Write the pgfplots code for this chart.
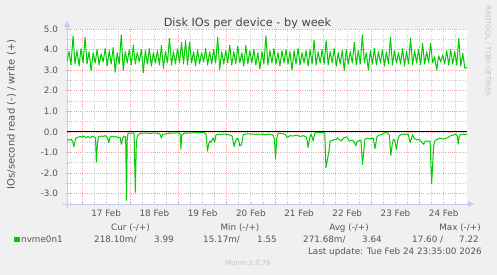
\documentclass[border=0pt]{standalone}
\usepackage{pgfplots}
\pgfplotsset{compat=1.18}
\usepackage{fontspec}
\setmainfont{DejaVu Sans}
\usetikzlibrary{arrows.meta}

\definecolor{bgcol}{HTML}{F0F0F0}
\definecolor{txt}{HTML}{555555}
\definecolor{ttl}{HTML}{444444}
\definecolor{faint}{HTML}{C4C4C4}
\definecolor{gridgray}{HTML}{CFCFCF}
\definecolor{gridred}{HTML}{F0A4A4}
\definecolor{axiscol}{HTML}{C8C8F4}
\definecolor{iogreen}{HTML}{00CC00}

\newcommand{\sz}{\fontsize{8.8bp}{10bp}\selectfont}

% write IOs/s (plotted upwards), hours since 17 Feb 00:00
\pgfplotstableread{
h v
-7.5 3.45
-6.5 3.90
-5.5 3.25
-4.5 4.66
-3.5 3.30
-2.5 3.95
-1.5 3.20
-0.5 4.05
0.5 3.35
1.5 4.60
2.5 3.30
3.5 3.90
4.5 2.98
5.5 3.85
6.5 3.35
7.5 4.00
8.5 3.25
9.5 3.80
10.5 3.40
11.5 4.05
12.5 3.20
13.5 3.95
14.5 3.30
15.5 4.10
16.5 2.90
17.5 3.85
18.5 3.30
19.5 4.71
20.5 3.00
21.5 3.90
22.5 3.35
23.5 4.00
24.5 3.25
25.5 4.22
26.5 3.30
27.5 3.85
28.5 3.40
29.5 4.00
30.5 2.88
31.5 3.95
32.5 3.30
33.5 4.05
34.5 3.20
35.5 3.85
36.5 3.35
37.5 3.95
38.5 3.25
39.5 4.20
40.5 3.09
41.5 3.90
42.5 3.35
43.5 4.55
44.5 3.25
45.5 3.90
46.5 3.30
47.5 4.05
48.5 3.35
49.5 4.35
50.5 3.30
51.5 4.43
52.5 3.25
53.5 4.37
54.5 3.35
55.5 3.90
56.5 3.20
57.5 4.00
58.5 3.30
59.5 3.85
60.5 3.40
61.5 4.05
62.5 3.25
63.5 3.90
64.5 3.30
65.5 4.00
66.5 3.35
67.5 4.60
68.5 3.03
69.5 3.90
70.5 3.30
71.5 3.95
72.5 3.35
73.5 4.22
74.5 3.25
75.5 3.90
76.5 3.30
77.5 4.16
78.5 3.35
79.5 3.85
80.5 3.20
81.5 4.20
82.5 3.30
83.5 3.95
84.5 3.35
85.5 4.00
86.5 3.25
87.5 3.85
88.5 3.05
89.5 3.90
90.5 3.30
91.5 4.67
92.5 3.25
93.5 3.95
94.5 3.35
95.5 4.05
96.5 3.30
97.5 3.85
98.5 3.20
99.5 3.95
100.5 3.35
101.5 4.00
102.5 3.30
103.5 3.90
104.5 3.00
105.5 3.95
106.5 3.30
107.5 4.05
108.5 3.25
109.5 3.85
110.5 3.35
111.5 3.95
112.5 3.20
113.5 4.00
114.5 3.30
115.5 4.47
116.5 3.25
117.5 3.90
118.5 3.35
119.5 4.00
120.5 3.30
121.5 4.44
122.5 3.25
123.5 3.90
124.5 3.35
125.5 4.05
126.5 3.20
127.5 3.85
128.5 3.30
129.5 3.95
130.5 3.00
131.5 4.00
132.5 3.30
133.5 3.90
134.5 3.35
135.5 4.35
136.5 3.25
137.5 3.95
138.5 3.30
139.5 4.71
140.5 3.35
141.5 3.85
142.5 3.00
143.5 3.95
144.5 3.30
145.5 4.05
146.5 3.25
147.5 3.90
148.5 3.35
149.5 4.00
150.5 3.20
151.5 3.90
152.5 3.30
153.5 4.60
154.5 3.25
155.5 3.95
156.5 3.35
157.5 3.85
158.5 3.30
159.5 4.05
160.5 3.20
161.5 3.90
162.5 3.30
163.5 4.55
164.5 3.25
165.5 3.95
166.5 3.35
167.5 4.00
168.5 3.25
169.5 4.30
170.5 3.30
171.5 3.90
172.5 3.35
173.5 4.30
174.5 3.35
175.5 3.65
176.5 3.00
177.5 3.70
178.5 3.40
179.5 3.75
180.5 3.30
181.5 3.95
182.5 3.25
183.5 4.00
184.5 3.30
185.5 3.90
186.5 3.25
187.5 4.55
188.5 3.20
189.5 3.82
190.5 3.10
191.6 3.12
}\writeio

% read IOs/s (plotted downwards), hours since 17 Feb 00:00
\pgfplotstableread{
h v
-7.5 -0.36
-6.5 -0.40
-5.5 -0.35
-4.7 -0.45
-4.1 -0.72
-3.5 -0.45
-3.0 -0.29
-2.0 -0.25
-1.0 -0.22
0.0 -0.25
1.0 -0.20
2.0 -0.28
3.0 -0.22
4.0 -0.30
5.0 -0.20
6.0 -0.25
6.7 -0.30
7.1 -1.46
7.7 -0.50
8.3 -0.23
9.5 -0.20
10.5 -0.22
11.5 -0.18
12.5 -0.25
13.3 -0.52
13.9 -0.25
14.9 -0.20
15.9 -0.25
16.9 -0.22
17.9 -0.28
18.9 -0.25
19.6 -0.60
20.2 -0.30
20.9 -0.20
21.7 -0.25
22.1 -3.32
22.5 -0.30
22.9 -0.05
23.9 -0.07
24.9 -0.05
25.9 -0.08
26.5 -2.93
27.0 -0.60
27.4 -0.25
28.1 -0.12
28.9 -0.08
31.4 -0.05
33.9 -0.07
36.4 -0.05
37.8 -0.08
38.8 -0.10
39.5 -0.30
40.1 -0.12
41.3 -0.10
43.8 -0.06
46.3 -0.05
48.3 -0.05
48.8 -0.10
49.2 -0.84
49.6 -0.15
50.8 -0.06
53.8 -0.05
56.3 -0.04
58.8 -0.03
60.8 -0.03
61.8 -0.15
62.4 -0.93
63.0 -0.60
63.6 -0.44
64.2 -0.50
65.2 -0.28
66.0 -0.50
66.7 -0.13
68.7 -0.12
71.2 -0.10
73.7 -0.15
74.7 -0.20
75.7 -0.71
76.4 -0.44
77.3 -0.30
77.9 -0.40
78.5 -0.68
79.4 -0.62
80.2 -0.13
81.7 -0.10
83.7 -0.10
86.2 -0.12
88.6 -0.10
91.1 -0.13
93.6 -0.10
95.1 -0.15
95.8 -0.40
96.3 -1.30
96.9 -0.30
97.6 -0.05
99.6 -0.08
101.1 -0.12
102.1 -0.28
103.6 -0.18
105.1 -0.20
106.6 -0.15
108.6 -0.22
110.1 -0.18
111.6 -0.25
112.1 -0.45
112.5 -0.76
113.3 -0.30
113.9 -0.10
114.5 -0.25
115.0 -0.44
115.9 -0.05
117.5 -0.03
119.5 -0.03
120.8 -0.05
121.4 -1.74
122.0 -1.40
122.8 -1.00
123.5 -0.44
125.0 -0.40
125.5 -0.36
126.8 -0.37
127.1 -0.28
128.8 -0.44
130.5 -0.28
131.8 -0.23
133.0 -0.44
134.5 -0.40
135.5 -0.49
136.3 -0.68
136.9 -0.45
137.9 -0.44
138.8 -0.39
139.6 -1.58
140.8 -0.36
141.9 -0.30
143.4 -0.33
144.9 -0.30
145.8 -0.81
146.8 -0.23
147.9 -0.15
149.4 -0.12
150.7 -0.03
151.9 -0.05
152.9 -0.15
153.7 -1.14
154.4 -0.60
155.0 -0.36
155.6 -0.40
156.5 -0.85
157.1 -0.40
157.9 -0.18
159.4 -0.10
160.9 -0.12
162.3 -0.10
163.3 -0.52
164.5 -0.13
165.3 -0.30
166.8 -0.40
167.8 -0.35
169.0 -0.49
170.0 -0.60
170.8 -0.45
172.0 -0.44
173.2 -0.45
174.0 -2.50
175.0 -0.68
175.6 -0.44
176.8 -0.35
178.3 -0.30
179.8 -0.35
181.9 -0.28
183.6 -0.18
184.8 -0.15
186.1 -0.10
186.8 -0.20
187.2 -0.60
187.7 -0.25
188.2 -0.13
189.4 -0.10
190.6 -0.13
191.6 -0.13
}\readio

\begin{document}
\begin{tikzpicture}
\fill[bgcol] (0,0) rectangle (497bp,275bp);
\begin{axis}[
  at={(67bp,71bp)}, anchor=south west,
  scale only axis, width=400bp, height=175bp,
  xmin=-7.5, xmax=191.6, ymin=-3.5, ymax=5,
  axis background/.style={fill=white},
  axis x line*=bottom, axis y line*=left,
  axis line style={draw=axiscol, line width=0.8bp},
  x axis line style={-{Triangle[width=6bp,length=6bp]}, shorten >=-7bp, shorten <=-5bp},
  y axis line style={-{Triangle[width=6bp,length=6bp]}, shorten >=-8bp, shorten <=-5bp},
  tick align=center, major tick length=3bp, minor tick length=3bp,
  xtick={0,24,48,72,96,120,144,168}, xticklabels={},
  minor xtick={-6,6,12,18,30,36,42,54,60,66,78,84,90,102,108,114,126,132,138,150,156,162,174,180,186},
  extra x ticks={12,36,60,84,108,132,156,180},
  extra x tick labels={17 Feb,18 Feb,19 Feb,20 Feb,21 Feb,22 Feb,23 Feb,24 Feb},
  extra x tick style={grid=none, major tick length=0pt},
  ytick={-3,-2,-1,0,1,2,3,4,5},
  minor ytick={-2.5,-1.5,-0.5,0.5,1.5,2.5,3.5,4.5},
  xmajorgrids, ymajorgrids, xminorgrids, yminorgrids,
  major grid style={draw=gridred, line width=0.8bp, dash pattern=on 1bp off 1.2bp},
  minor grid style={draw=gridgray, line width=0.8bp, dash pattern=on 1bp off 1.2bp},
  major tick style={draw=gridred, line width=0.6bp},
  minor tick style={draw=gridgray, line width=0.6bp},
  ticklabel style={font=\sz, text=txt},
  xticklabel style={yshift=-2bp},
  yticklabel style={xshift=-4bp, /pgf/number format/fixed, /pgf/number format/fixed zerofill, /pgf/number format/precision=1, /pgf/number format/assume math mode=true},
  clip=true,
]
\addplot[iogreen, line width=1bp, line join=round] table[x=h, y=v] {\writeio};
\addplot[iogreen, line width=1bp, line join=round] table[x=h, y=v] {\readio};
\addplot[black, line width=1bp] coordinates {(-7.5,0) (191.6,0)};
\end{axis}
\begin{scope}[x=1bp, y=1bp, font=\sz, text=txt]
  \node[anchor=base, font=\fontsize{11.3bp}{13bp}\selectfont, text=ttl] at (247.5,249) {Disk IOs per device - by week};
  \node[rotate=90, font=\fontsize{10bp}{12bp}\selectfont] at (11.5,160.5) {IOs/second read (-) / write (+)};
  \node[rotate=-90, font=\fontsize{7.1bp}{8bp}\selectfont, text=faint] at (488,224) {RRDTOOL / TOBI OETIKER};
  % legend
  \node[anchor=base] at (130.5,44.3) {Cur (-/+)};
  \node[anchor=base] at (240,44.3) {Min (-/+)};
  \node[anchor=base] at (349,44.3) {Avg (-/+)};
  \node[anchor=base] at (460,44.3) {Max (-/+)};
  \fill[iogreen] (14,32.5) rectangle (19.5,38);
  \node[anchor=base west, inner sep=0pt] at (21,32.3) {nvme0n1};
  \node[anchor=base west, inner sep=0pt] at (94,32.3) {218.10m/};
  \node[anchor=base east, inner sep=0pt] at (174,32.3) {3.99};
  \node[anchor=base west, inner sep=0pt] at (203,32.3) {15.17m/};
  \node[anchor=base east, inner sep=0pt] at (277,32.3) {1.55};
  \node[anchor=base west, inner sep=0pt] at (303,32.3) {271.68m/};
  \node[anchor=base east, inner sep=0pt] at (382,32.3) {3.64};
  \node[anchor=base west, inner sep=0pt] at (412,32.3) {17.60 /};
  \node[anchor=base east, inner sep=0pt] at (479,32.3) {7.22};
  \node[anchor=base east, inner sep=0pt] at (482,20.7) {Last update: Tue Feb 24 23:35:00 2026};
  \node[anchor=base, inner sep=0pt, font=\fontsize{7bp}{8bp}\selectfont, text=faint] at (248,10) {Munin 2.0.76};
\end{scope}
\end{tikzpicture}
\end{document}
